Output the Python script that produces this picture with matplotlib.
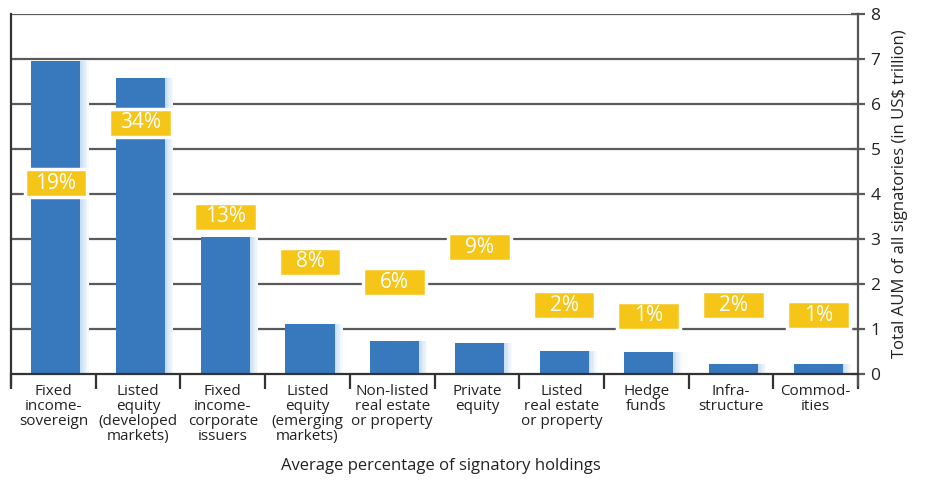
import matplotlib.pyplot as plt
from matplotlib.patches import Rectangle
import numpy as np

plt.rcParams['font.family'] = ['Open Sans', 'DejaVu Sans']

categories = ['Fixed\nincome-\nsovereign', 'Listed\nequity\n(developed\nmarkets)',
              'Fixed\nincome-\ncorporate\nissuers', 'Listed\nequity\n(emerging\nmarkets)',
              'Non-listed\nreal estate\nor property', 'Private\nequity',
              'Listed\nreal estate\nor property', 'Hedge\nfunds', 'Infra-\nstructure',
              'Commod-\nities']
aum = [6.95, 6.58, 3.04, 1.10, 0.73, 0.69, 0.51, 0.49, 0.22, 0.22]
pct_labels = ['19%', '34%', '13%', '8%', '6%', '9%', '2%', '1%', '2%', '1%']
label_y = [4.24, 5.58, 3.49, 2.49, 2.04, 2.82, 1.53, 1.29, 1.53, 1.31]

blue = '#3878bc'
yellow = '#f5c518'
grid = '#5a5a5a'

fig = plt.figure(figsize=(9.28, 4.86), dpi=100)
ax = fig.add_axes([0.0119, 0.2305, 0.9127, 0.7407])
ax.set_xlim(-0.5, 9.5)
ax.set_ylim(0, 8)

x = np.arange(len(categories))
off = 0.03
w = 0.58

# grid lines
for v in range(1, 9):
    ax.axhline(v, color=grid, lw=1.6, zorder=1)

# pale shadow to the right of each bar, fading outwards
shades = ['#c9def2', '#d3e4f5', '#dce9f7', '#e5effa', '#eef4fb', '#f6f9fd']
for k, c in enumerate(shades):
    ax.bar(x + off + w / 2 + 0.016 * k + 0.008, aum, width=0.016,
           color=c, zorder=2)

ax.bar(x + off, aum, width=w, color=blue, zorder=3)

# percentage boxes
bw, bh = 0.74, 0.62
for xi, yv, t in zip(x, label_y, pct_labels):
    ax.add_patch(Rectangle((xi + off - bw / 2, yv - bh / 2), bw, bh,
                           facecolor=yellow, edgecolor='white', lw=2.5, zorder=4))
    ax.text(xi + off, yv, t, ha='center', va='center', color='white',
            fontsize=15, zorder=5)

# spines and ticks
for s in ['top', 'bottom']:
    ax.spines[s].set_visible(False)
ax.spines['left'].set_color('#333333')
ax.spines['right'].set_color('#555555')
ax.spines['left'].set_linewidth(1.6)
ax.spines['right'].set_linewidth(1.6)
ax.spines['left'].set_bounds(-0.25, 8)
ax.spines['right'].set_bounds(-0.25, 8)
ax.axhline(0, color='#333333', lw=1.6, zorder=6, clip_on=False)

ax.yaxis.tick_right()
ax.yaxis.set_label_position('right')
ax.set_yticks(range(0, 9))
ax.tick_params(axis='y', direction='inout', length=10, width=1.6, color=grid,
               labelsize=12.5, pad=4, labelcolor='#222222')
ax.set_ylabel('Total AUM of all signatories (in US$ trillion)', fontsize=12,
              color='#222222', labelpad=8)

# category separators and labels
ax.set_xticks(np.arange(-0.5, 10, 1))
ax.set_xticklabels([])
ax.tick_params(axis='x', direction='out', length=11, width=1.6, color='#333333')
for xi, c in zip(x, categories):
    ax.text(xi, -0.22, c, ha='center', va='top', fontsize=11,
            color='#222222', linespacing=1.0)

fig.text(0.475, 0.025, 'Average percentage of signatory holdings', ha='center',
         va='bottom', fontsize=12, color='#222222')

fig.savefig('out.png', dpi=100)
